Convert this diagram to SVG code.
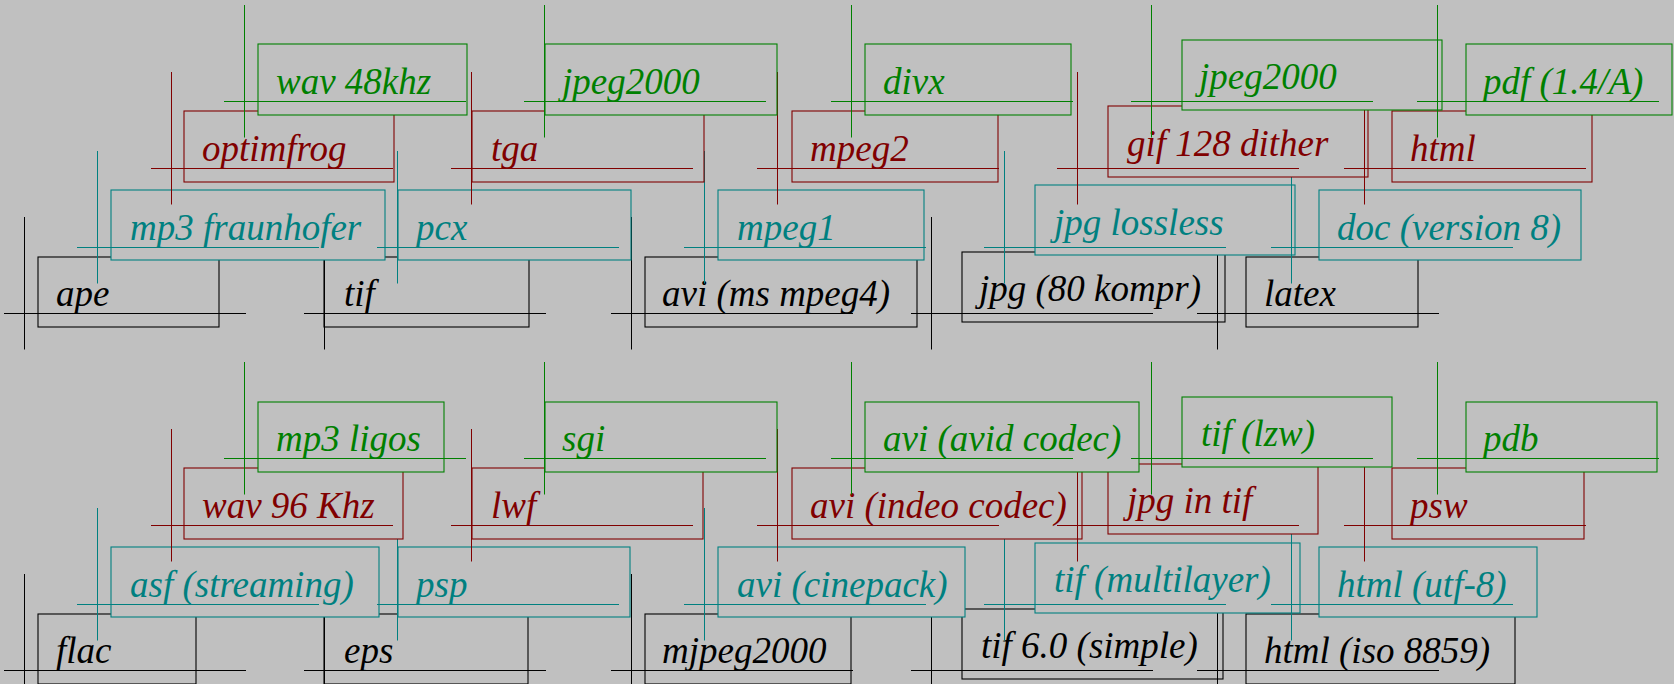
<svg xmlns="http://www.w3.org/2000/svg" width="1674" height="684" viewBox="0 0 1674 684">
<style>
rect.b{fill:#c0c0c0;stroke-width:1.1}
line{stroke-width:1}
text{font-family:"Liberation Serif","Times New Roman",serif;font-style:italic;font-size:37px}
.k rect,.k line{stroke:#000}.k text{fill:#000}
.t rect,.t line{stroke:#008080}.t text{fill:#008080}
.r rect,.r line{stroke:#800000}.r text{fill:#800000}
.g rect,.g line{stroke:#008000}.g text{fill:#008000}
</style>
<rect x="0" y="0" width="1674" height="684" fill="#c0c0c0"/>
<!-- black layer -->
<g id="n-ape" class="k"><rect class="b" x="38" y="257" width="181" height="70"/><line x1="24.5" y1="217" x2="24.5" y2="349.5"/><line x1="4" y1="313.5" x2="246" y2="313.5"/><text x="56" y="305.5">ape</text></g>
<g id="n-tif" class="k"><rect class="b" x="324" y="257" width="205" height="70"/><line x1="324.5" y1="217" x2="324.5" y2="349.5"/><line x1="304" y1="313.5" x2="546" y2="313.5"/><text x="344" y="305.5">tif</text></g>
<g id="n-avi-ms-mpeg4" class="k"><rect class="b" x="645" y="257" width="272" height="70"/><line x1="631.5" y1="217" x2="631.5" y2="349.5"/><line x1="611" y1="313.5" x2="853" y2="313.5"/><text x="662" y="305.5">avi (ms mpeg4)</text></g>
<g id="n-jpg-80-kompr" class="k"><rect class="b" x="962" y="252" width="263" height="70"/><line x1="931.5" y1="217" x2="931.5" y2="349.5"/><line x1="911" y1="313.5" x2="1153" y2="313.5"/><text x="979" y="301">jpg (80 kompr)</text></g>
<g id="n-latex" class="k"><rect class="b" x="1246" y="257" width="172" height="70"/><line x1="1217.5" y1="217" x2="1217.5" y2="349.5"/><line x1="1197" y1="313.5" x2="1439" y2="313.5"/><text x="1264" y="305.5">latex</text></g>
<g id="n-flac" class="k"><rect class="b" x="38" y="614" width="158" height="70"/><line x1="24.5" y1="574" x2="24.5" y2="706.5"/><line x1="4" y1="670.5" x2="246" y2="670.5"/><text x="56" y="662.5">flac</text></g>
<g id="n-eps" class="k"><rect class="b" x="324" y="614" width="204" height="70"/><line x1="324.5" y1="574" x2="324.5" y2="706.5"/><line x1="304" y1="670.5" x2="546" y2="670.5"/><text x="344" y="662.5">eps</text></g>
<g id="n-mjpeg2000" class="k"><rect class="b" x="645" y="614" width="206" height="70"/><line x1="631.5" y1="574" x2="631.5" y2="706.5"/><line x1="611" y1="670.5" x2="853" y2="670.5"/><text x="662" y="662.5">mjpeg2000</text></g>
<g id="n-tif-6-simple" class="k"><rect class="b" x="962" y="609" width="261" height="70"/><line x1="931.5" y1="574" x2="931.5" y2="706.5"/><line x1="911" y1="670.5" x2="1153" y2="670.5"/><text x="981" y="658">tif 6.0 (simple)</text></g>
<g id="n-html-iso-8859" class="k"><rect class="b" x="1246" y="614" width="269" height="70"/><line x1="1217.5" y1="574" x2="1217.5" y2="706.5"/><line x1="1197" y1="670.5" x2="1439" y2="670.5"/><text x="1264" y="662.5">html (iso 8859)</text></g>
<!-- teal layer -->
<g id="n-mp3-fraunhofer" class="t"><rect class="b" x="111" y="190" width="274" height="70"/><line x1="97.5" y1="151" x2="97.5" y2="283.5"/><line x1="77" y1="247.5" x2="319" y2="247.5"/><text x="130" y="239.5">mp3 fraunhofer</text></g>
<g id="n-pcx" class="t"><rect class="b" x="398" y="190" width="233" height="70"/><line x1="397.5" y1="151" x2="397.5" y2="283.5"/><line x1="377" y1="247.5" x2="619" y2="247.5"/><text x="416" y="239.5">pcx</text></g>
<g id="n-mpeg1" class="t"><rect class="b" x="718" y="190" width="206" height="70"/><line x1="704.5" y1="151" x2="704.5" y2="283.5"/><line x1="684" y1="247.5" x2="926" y2="247.5"/><text x="737" y="239.5">mpeg1</text></g>
<g id="n-jpg-lossless" class="t"><rect class="b" x="1035" y="185" width="260" height="70"/><line x1="1004.5" y1="151" x2="1004.5" y2="283.5"/><line x1="984" y1="247.5" x2="1226" y2="247.5"/><text x="1054" y="235">jpg lossless</text></g>
<g id="n-doc-version-8" class="t"><rect class="b" x="1319" y="190" width="262" height="70"/><line x1="1291.5" y1="151" x2="1291.5" y2="283.5"/><line x1="1271" y1="247.5" x2="1513" y2="247.5"/><text x="1337" y="239.5">doc (version 8)</text></g>
<g id="n-asf-streaming" class="t"><rect class="b" x="111" y="547" width="268" height="70"/><line x1="97.5" y1="508" x2="97.5" y2="640.5"/><line x1="77" y1="604.5" x2="319" y2="604.5"/><text x="130" y="596.5">asf (streaming)</text></g>
<g id="n-psp" class="t"><rect class="b" x="398" y="547" width="232" height="70"/><line x1="397.5" y1="508" x2="397.5" y2="640.5"/><line x1="377" y1="604.5" x2="619" y2="604.5"/><text x="416" y="596.5">psp</text></g>
<g id="n-avi-cinepack" class="t"><rect class="b" x="718" y="547" width="247" height="70"/><line x1="704.5" y1="508" x2="704.5" y2="640.5"/><line x1="684" y1="604.5" x2="926" y2="604.5"/><text x="737" y="596.5">avi (cinepack)</text></g>
<g id="n-tif-multilayer" class="t"><rect class="b" x="1035" y="543" width="265" height="70"/><line x1="1004.5" y1="508" x2="1004.5" y2="640.5"/><line x1="984" y1="604.5" x2="1226" y2="604.5"/><text x="1054" y="592">tif (multilayer)</text></g>
<g id="n-html-utf-8" class="t"><rect class="b" x="1319" y="547" width="218" height="70"/><line x1="1291.5" y1="508" x2="1291.5" y2="640.5"/><line x1="1271" y1="604.5" x2="1513" y2="604.5"/><text x="1337" y="596.5">html (utf-8)</text></g>
<!-- red layer -->
<g id="n-optimfrog" class="r"><rect class="b" x="184" y="111" width="210" height="71"/><line x1="171.5" y1="72" x2="171.5" y2="204.5"/><line x1="151" y1="168.5" x2="393" y2="168.5"/><text x="202" y="160.5">optimfrog</text></g>
<g id="n-tga" class="r"><rect class="b" x="472" y="111" width="232" height="71"/><line x1="471.5" y1="72" x2="471.5" y2="204.5"/><line x1="451" y1="168.5" x2="693" y2="168.5"/><text x="491" y="160.5">tga</text></g>
<g id="n-mpeg2" class="r"><rect class="b" x="792" y="111" width="206" height="71"/><line x1="777.5" y1="72" x2="777.5" y2="204.5"/><line x1="757" y1="168.5" x2="999" y2="168.5"/><text x="810" y="160.5">mpeg2</text></g>
<g id="n-gif-128-dither" class="r"><rect class="b" x="1108" y="106" width="260" height="71"/><line x1="1077.5" y1="72" x2="1077.5" y2="204.5"/><line x1="1057" y1="168.5" x2="1299" y2="168.5"/><text x="1127" y="156">gif 128 dither</text></g>
<g id="n-html" class="r"><rect class="b" x="1392" y="111" width="200" height="71"/><line x1="1364.5" y1="72" x2="1364.5" y2="204.5"/><line x1="1344" y1="168.5" x2="1586" y2="168.5"/><text x="1410" y="160.5">html</text></g>
<g id="n-wav-96-khz" class="r"><rect class="b" x="184" y="468" width="219" height="71"/><line x1="171.5" y1="429" x2="171.5" y2="561.5"/><line x1="151" y1="525.5" x2="393" y2="525.5"/><text x="202" y="517.5">wav 96 Khz</text></g>
<g id="n-lwf" class="r"><rect class="b" x="472" y="468" width="231" height="71"/><line x1="471.5" y1="429" x2="471.5" y2="561.5"/><line x1="451" y1="525.5" x2="693" y2="525.5"/><text x="491" y="517.5">lwf</text></g>
<g id="n-avi-indeo-codec" class="r"><rect class="b" x="792" y="468" width="290" height="71"/><line x1="777.5" y1="429" x2="777.5" y2="561.5"/><line x1="757" y1="525.5" x2="999" y2="525.5"/><text x="810" y="517.5">avi (indeo codec)</text></g>
<g id="n-jpg-in-tif" class="r"><rect class="b" x="1108" y="464" width="210" height="70"/><line x1="1077.5" y1="429" x2="1077.5" y2="561.5"/><line x1="1057" y1="525.5" x2="1299" y2="525.5"/><text x="1127" y="513">jpg in tif</text></g>
<g id="n-psw" class="r"><rect class="b" x="1392" y="468" width="192" height="71"/><line x1="1364.5" y1="429" x2="1364.5" y2="561.5"/><line x1="1344" y1="525.5" x2="1586" y2="525.5"/><text x="1410" y="517.5">psw</text></g>
<!-- green layer -->
<g id="n-wav-48khz" class="g"><rect class="b" x="258" y="44" width="209" height="71"/><line x1="244.5" y1="5" x2="244.5" y2="137.5"/><line x1="224" y1="101.5" x2="466" y2="101.5"/><text x="276" y="93.5">wav 48khz</text></g>
<g id="n-jpeg2000-a" class="g"><rect class="b" x="545" y="44" width="232" height="71"/><line x1="544.5" y1="5" x2="544.5" y2="137.5"/><line x1="524" y1="101.5" x2="766" y2="101.5"/><text x="562" y="93.5">jpeg2000</text></g>
<g id="n-divx" class="g"><rect class="b" x="865" y="44" width="206" height="71"/><line x1="851.5" y1="5" x2="851.5" y2="137.5"/><line x1="831" y1="101.5" x2="1073" y2="101.5"/><text x="883" y="93.5">divx</text></g>
<g id="n-jpeg2000-b" class="g"><rect class="b" x="1182" y="40" width="260" height="70"/><line x1="1151.5" y1="5" x2="1151.5" y2="137.5"/><line x1="1131" y1="101.5" x2="1373" y2="101.5"/><text x="1199" y="89">jpeg2000</text></g>
<g id="n-pdf" class="g"><rect class="b" x="1466" y="44" width="206" height="71"/><line x1="1437.5" y1="5" x2="1437.5" y2="137.5"/><line x1="1417" y1="101.5" x2="1659" y2="101.5"/><text x="1483" y="93.5">pdf (1.4/A)</text></g>
<g id="n-mp3-ligos" class="g"><rect class="b" x="258" y="402" width="186" height="70"/><line x1="244.5" y1="362" x2="244.5" y2="494.5"/><line x1="224" y1="458.5" x2="466" y2="458.5"/><text x="276" y="450.5">mp3 ligos</text></g>
<g id="n-sgi" class="g"><rect class="b" x="545" y="402" width="232" height="70"/><line x1="544.5" y1="362" x2="544.5" y2="494.5"/><line x1="524" y1="458.5" x2="766" y2="458.5"/><text x="562" y="450.5">sgi</text></g>
<g id="n-avi-avid-codec" class="g"><rect class="b" x="865" y="402" width="274" height="70"/><line x1="851.5" y1="362" x2="851.5" y2="494.5"/><line x1="831" y1="458.5" x2="1073" y2="458.5"/><text x="883" y="450.5">avi (avid codec)</text></g>
<g id="n-tif-lzw" class="g"><rect class="b" x="1182" y="397" width="210" height="70"/><line x1="1151.5" y1="362" x2="1151.5" y2="494.5"/><line x1="1131" y1="458.5" x2="1373" y2="458.5"/><text x="1201" y="446">tif (lzw)</text></g>
<g id="n-pdb" class="g"><rect class="b" x="1466" y="402" width="191" height="70"/><line x1="1437.5" y1="362" x2="1437.5" y2="494.5"/><line x1="1417" y1="458.5" x2="1659" y2="458.5"/><text x="1483" y="450.5">pdb</text></g>
</svg>
